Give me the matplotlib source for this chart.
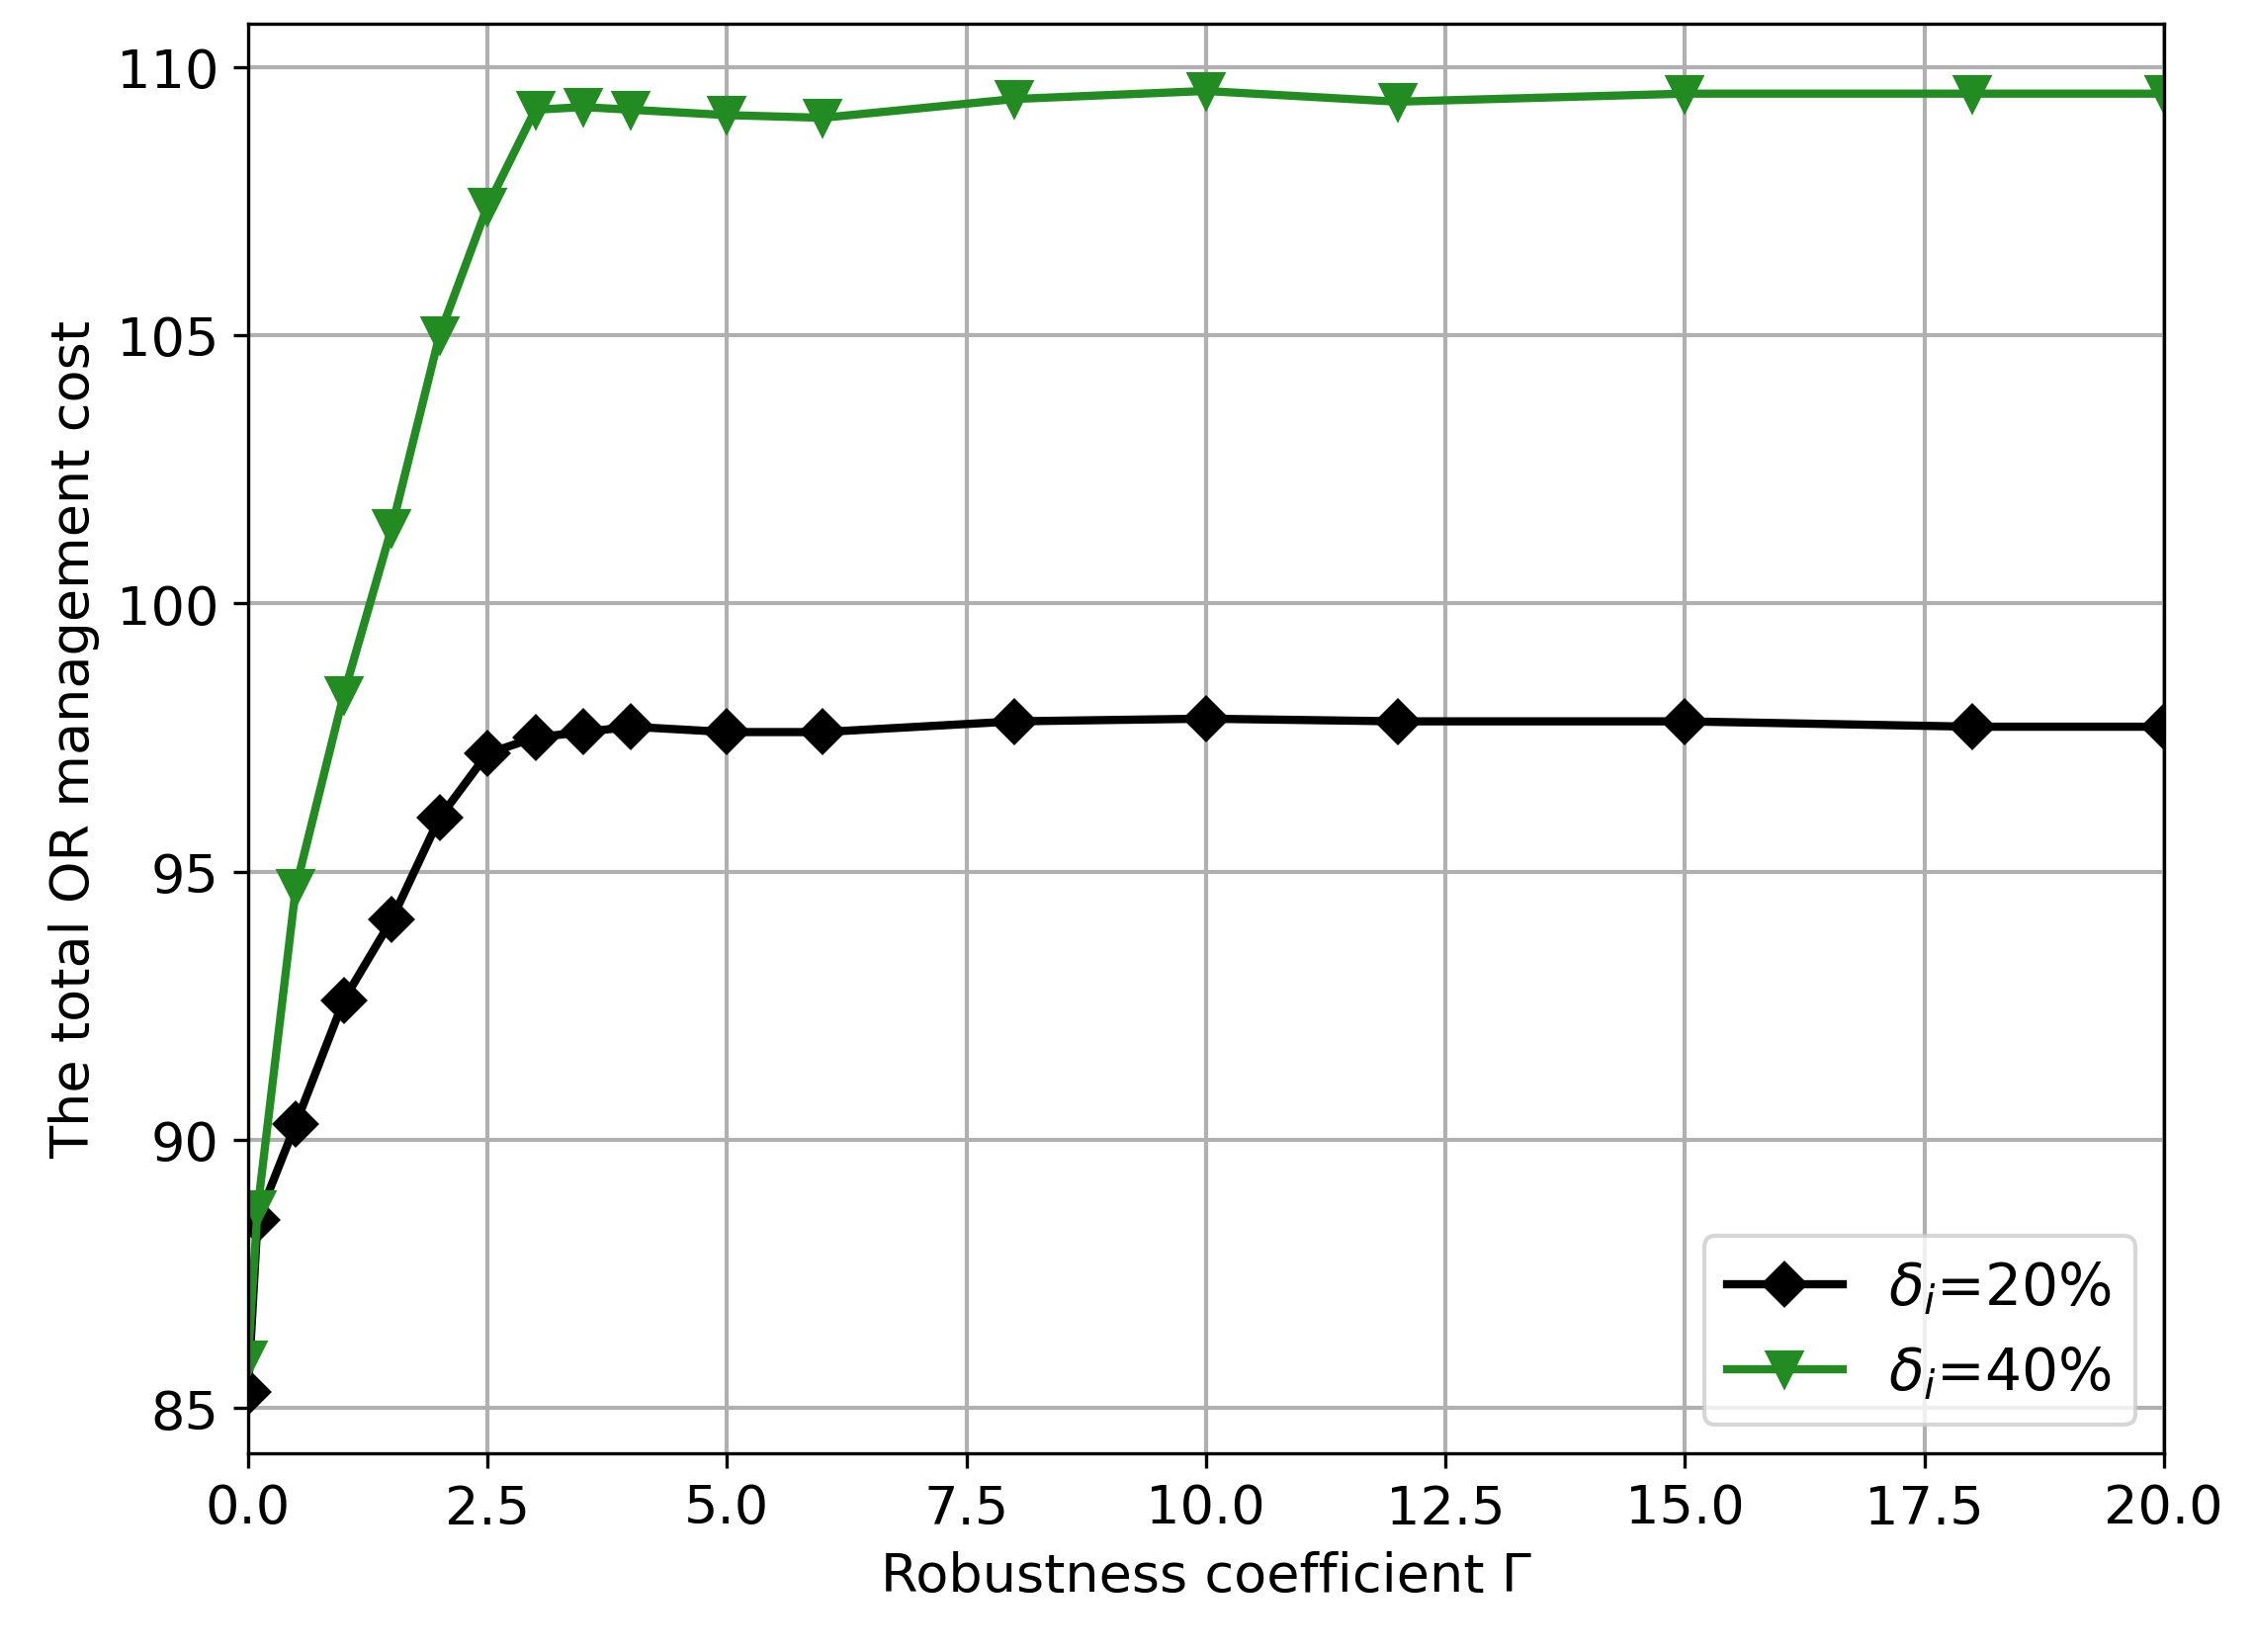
import matplotlib
matplotlib.use("Agg")
import matplotlib.pyplot as plt

gamma = [0, 0.1, 0.5, 1, 1.5, 2, 2.5, 3, 3.5, 4, 5, 6, 8, 10, 12, 15, 18, 20]
cost_20 = [85.3, 88.5, 90.3, 92.6, 94.1, 96.0, 97.2, 97.5, 97.6, 97.7, 97.6, 97.6,
           97.8, 97.85, 97.8, 97.8, 97.7, 97.7]
cost_40 = [85.9, 88.7, 94.7, 98.3, 101.4, 105.0, 107.4, 109.2, 109.25, 109.2, 109.1,
           109.05, 109.4, 109.55, 109.35, 109.5, 109.5, 109.5]

fig, ax = plt.subplots(figsize=(7.6, 5.573), dpi=300)
ax.plot(gamma, cost_20, color='black', marker='D', markersize=7, linewidth=2,
        label=r'$\delta_i$=20%')
ax.plot(gamma, cost_40, color='forestgreen', marker='v', markersize=8, linewidth=2,
        label=r'$\delta_i$=40%')
ax.set_xlim(0, 20)
ax.set_ylim(84.15, 110.8)
ax.set_yticks([85, 90, 95, 100, 105, 110])
ax.grid(True, linewidth=1, color='#b0b0b0')
ax.set_xlabel('Robustness coefficient Γ', fontsize=13)
ax.set_ylabel('The total OR management cost', fontsize=13)
ax.tick_params(labelsize=13)
ax.legend(loc='lower right', fontsize=14)
fig.subplots_adjust(left=0.11, right=0.96, top=0.985, bottom=0.12)
fig.savefig('out.png', dpi=300)
